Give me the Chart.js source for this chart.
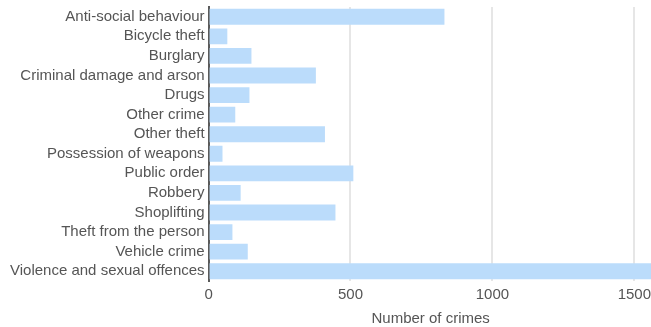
<!DOCTYPE html>
<html lang="en">
<head>
    <meta charset="UTF-8">
    <title>Crimes by category</title>
    <script src="https://cdn.jsdelivr.net/npm/chart.js"></script>
    <style>
        body {
            margin: 0;
            padding: 0;
            background: white;
            overflow: hidden;
        }

        .chart-box {
            position: relative;
            width: 657px;
            height: 327px;
        }
    </style>
</head>
<body>
    <div class="chart-box">
        <canvas id="crimeChart"></canvas>
    </div>

    <script>
// Data
const categories = [
    'Anti-social behaviour',
    'Bicycle theft',
    'Burglary',
    'Criminal damage and arson',
    'Drugs',
    'Other crime',
    'Other theft',
    'Possession of weapons',
    'Public order',
    'Robbery',
    'Shoplifting',
    'Theft from the person',
    'Vehicle crime',
    'Violence and sexual offences'
];
const crimeCounts = [831, 66, 151, 378, 144, 94, 410, 49, 510, 113, 447, 84, 138, 1600];
const xTicks = [0, 500, 1000, 1500];
const xMax = 1565;

const textColor = '#555';
const fontFamily = "'Liberation Sans', Arial, sans-serif";
const fontSize = 15;

const crimeCtx = document.getElementById('crimeChart').getContext('2d');
const crimeChart = new Chart(crimeCtx, {
    type: 'bar',
    data: {
        labels: categories,
        datasets: [{
            label: 'Number of crimes',
            data: crimeCounts,
            backgroundColor: '#bbdcfb',
            borderWidth: 0,
            barPercentage: 0.9,
            categoryPercentage: 0.9
        }]
    },
    options: {
        indexAxis: 'y',
        responsive: true,
        maintainAspectRatio: false,
        animation: false,
        layout: {
            padding: { top: 0, right: 0, left: 6, bottom: 1 }
        },
        plugins: {
            legend: { display: false },
            tooltip: { enabled: false }
        },
        scales: {
            x: {
                min: 0,
                max: xMax,
                afterBuildTicks: (axis) => {
                    axis.ticks = xTicks.map(v => ({ value: v }));
                },
                grid: {
                    color: '#e6e6e6',
                    lineWidth: 2,
                    drawTicks: false
                },
                border: { display: false },
                ticks: {
                    color: textColor,
                    padding: 6,
                    callback: (value) => String(value),
                    font: { family: fontFamily, size: fontSize, lineHeight: 1 }
                },
                title: {
                    display: true,
                    text: 'Number of crimes',
                    color: textColor,
                    padding: { top: 3, bottom: 0 },
                    font: { family: fontFamily, size: fontSize, lineHeight: 1 }
                }
            },
            y: {
                grid: {
                    display: false,
                    drawTicks: false
                },
                border: {
                    display: true,
                    color: '#5a5a5a',
                    width: 2
                },
                ticks: {
                    color: textColor,
                    padding: 4,
                    autoSkip: false,
                    // small line height keeps the axis from reserving extra top space
                    font: { family: fontFamily, size: fontSize, lineHeight: 0.4 }
                }
            }
        }
    }
});
    </script>
</body>
</html>
